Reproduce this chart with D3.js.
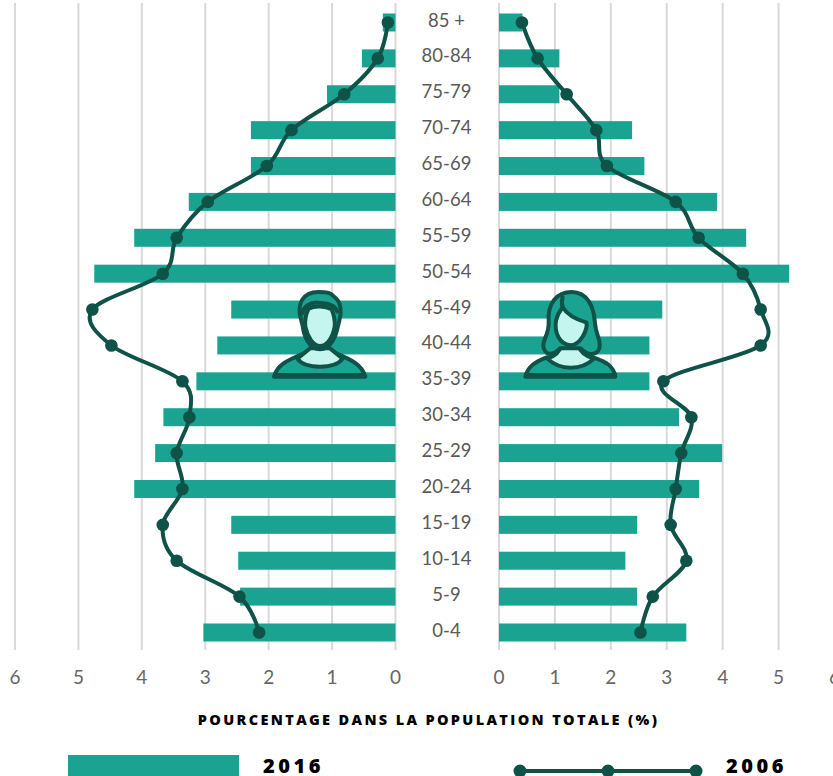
<!DOCTYPE html>
<html>

<head>
  <meta charset="utf-8">
  <title>Pyramide des âges 2016 / 2006</title>
  <script src="https://d3js.org/d3.v7.min.js"></script>
  <style>
    html, body { margin: 0; padding: 0; background: #fff; overflow: hidden; }
    text { font-family: Lato, "Open Sans", sans-serif; }
    text.heavy { font-family: "Open Sans", sans-serif; font-weight: 800; }
  </style>
</head>

<body>
  <div id="chart"></div>
  <script type="text/javascript">
    // age groups, top to bottom
    var ages = ["85 +", "80-84", "75-79", "70-74", "65-69", "60-64", "55-59", "50-54", "45-49",
      "40-44", "35-39", "30-34", "25-29", "20-24", "15-19", "10-14", "5-9", "0-4"];
    // hommes
    var men2016 = [0.2, 0.53, 1.08, 2.28, 2.28, 3.26, 4.12, 4.75, 2.59, 2.81, 3.14, 3.66, 3.79, 4.12, 2.59, 2.48, 2.45, 3.03];
    var men2006 = [0.12, 0.28, 0.81, 1.64, 2.03, 2.96, 3.45, 3.67, 4.78, 4.48, 3.36, 3.25, 3.45, 3.36, 3.67, 3.45, 2.46, 2.15];
    // femmes
    var women2016 = [0.42, 1.08, 1.08, 2.38, 2.6, 3.9, 4.42, 5.19, 2.92, 2.69, 2.69, 3.22, 3.99, 3.58, 2.47, 2.26, 2.47, 3.35];
    var women2006 = [0.41, 0.69, 1.21, 1.74, 1.93, 3.16, 3.57, 4.36, 4.68, 4.68, 2.94, 3.44, 3.26, 3.16, 3.07, 3.35, 2.75, 2.53];
    var ticks = [0, 1, 2, 3, 4, 5, 6];

    var width = 833, height = 776;
    var teal = "#1aa391", dark = "#0f5248", pale = "#c5f5ef";

    var svg = d3.select("#chart").append("svg")
      .attr("width", width)
      .attr("height", height)
      .style("display", "block");

    var y = d3.scalePoint().domain(ages).range([22.5, 632.5]);
    var xLeft = d3.scaleLinear().domain([0, 6]).range([395.5, 15]);
    var xRight = d3.scaleLinear().domain([0, 6]).range([499, 834.5]);

    function side(x, bars, line) {
      var g = svg.append("g");

      // grid
      g.selectAll(".grid").data(ticks).enter().append("line")
        .attr("class", "grid")
        .attr("x1", function (d) { return x(d); })
        .attr("x2", function (d) { return x(d); })
        .attr("y1", 3)
        .attr("y2", 650)
        .attr("stroke", "#d9d9d9")
        .attr("stroke-width", 2);

      g.selectAll(".bar").data(bars).enter().append("rect")
        .attr("class", "bar")
        .attr("fill", teal)
        .attr("x", function (d) { return Math.min(x(0), x(d)); })
        .attr("width", function (d) { return Math.abs(x(d) - x(0)); })
        .attr("y", function (d, i) { return y(ages[i]) - 9; })
        .attr("height", 18);

      var path = d3.line()
        .x(function (d) { return x(d); })
        .y(function (d, i) { return y(ages[i]); })
        .curve(d3.curveCatmullRom.alpha(0));

      g.append("path")
        .attr("d", path(line))
        .attr("fill", "none")
        .attr("stroke", dark)
        .attr("stroke-width", 4);

      g.selectAll(".dot").data(line).enter().append("circle")
        .attr("class", "dot")
        .attr("cx", function (d) { return x(d); })
        .attr("cy", function (d, i) { return y(ages[i]); })
        .attr("r", 6.3)
        .attr("fill", dark);

      // tick labels
      g.selectAll(".tick").data(ticks).enter().append("text")
        .attr("class", "tick")
        .attr("x", function (d) { return x(d); })
        .attr("y", 684)
        .attr("text-anchor", "middle")
        .attr("fill", "#666666")
        .style("font-size", "19px")
        .text(function (d) { return d; });
    }

    side(xLeft, men2016, men2006);
    side(xRight, women2016, women2006);

    // age labels
    svg.selectAll(".age").data(ages).enter().append("text")
      .attr("class", "age")
      .attr("x", 446.5)
      .attr("y", function (d) { return y(d) + 4; })
      .attr("text-anchor", "middle")
      .attr("fill", "#595959")
      .style("font-size", "18.5px")
      .text(function (d) { return d; });

    svg.append("text")
      .attr("class", "heavy")
      .attr("x", 428.5)
      .attr("y", 725)
      .attr("text-anchor", "middle")
      .attr("fill", "#000")
      .style("font-size", "14.5px")
      .style("letter-spacing", "2.35px")
      .text("POURCENTAGE DANS LA POPULATION TOTALE (%)");

    // legend
    svg.append("rect").attr("x", 68).attr("y", 755).attr("width", 171).attr("height", 21).attr("fill", teal);
    svg.append("text").attr("class", "heavy").attr("x", 263).attr("y", 773)
      .style("font-size", "20px").style("letter-spacing", "3.5px").text("2016");
    var legendX = [520, 608, 696];
    svg.append("line").attr("x1", legendX[0]).attr("x2", legendX[2]).attr("y1", 771).attr("y2", 771)
      .attr("stroke", dark).attr("stroke-width", 4);
    svg.selectAll(".legdot").data(legendX).enter().append("circle")
      .attr("class", "legdot")
      .attr("cx", function (d) { return d; })
      .attr("cy", 771)
      .attr("r", 6.5)
      .attr("fill", dark);
    svg.append("text").attr("class", "heavy").attr("x", 726).attr("y", 773)
      .style("font-size", "20px").style("letter-spacing", "3.5px").text("2006");

    // icons, drawn in a 360x330 box
    function icon(x0, y0, parts) {
      var g = svg.append("g").attr("transform", "translate(" + x0 + "," + y0 + ") scale(0.3333)");
      parts.forEach(function (p) {
        g.append("path")
          .attr("d", p[0])
          .attr("fill", p[1])
          .attr("stroke", dark)
          .attr("stroke-width", 12)
          .attr("stroke-linejoin", "round")
          .attr("stroke-linecap", "round");
      });
    }

    icon(260, 280, [
      ["M42 290 C52 250 90 238 150 212 L210 212 C270 238 305 250 316 290 Z", teal],
      ["M112 236 C135 268 225 268 248 236 L210 205 L150 205 Z", pale],
      ["M124 122 C108 70 130 36 175 36 C195 36 212 36 222 50 C245 65 245 100 238 122 L234 138 C228 170 212 208 180 208 C148 208 132 170 128 138 Z", teal],
      ["M146 86 C165 76 195 78 215 88 C222 105 226 120 224 140 C218 175 200 198 180 198 C160 198 142 170 136 140 C134 120 138 100 146 86 Z", pale],
      ["M128 100 C130 80 150 66 175 68 C200 70 225 72 232 95", "none"]
    ]);
    svg.append("rect").attr("x", 274).attr("y", 373).attr("width", 92).attr("height", 5).attr("fill", dark);

    icon(510, 280, [
      ["M46 290 C55 255 80 245 110 232 L250 232 C285 245 310 255 316 290 Z", teal],
      ["M112 236 C150 272 215 272 252 236 C225 228 210 215 205 195 L155 195 C150 215 135 228 112 236 Z", pale],
      ["M116 125 C112 70 140 36 185 36 C232 36 252 80 255 130 C258 170 275 180 268 205 C262 225 235 230 212 205 L150 205 C125 230 105 225 100 200 C98 175 118 165 116 125 Z", teal],
      ["M158 82 C172 105 195 118 230 128 C232 150 212 196 180 196 C150 192 132 160 138 122 C142 105 150 92 158 82 Z", pale],
      ["M158 82 C155 70 155 60 158 52", "none"]
    ]);
    svg.append("rect").attr("x", 524).attr("y", 373).attr("width", 93).attr("height", 5).attr("fill", dark);
  </script>
</body>

</html>
